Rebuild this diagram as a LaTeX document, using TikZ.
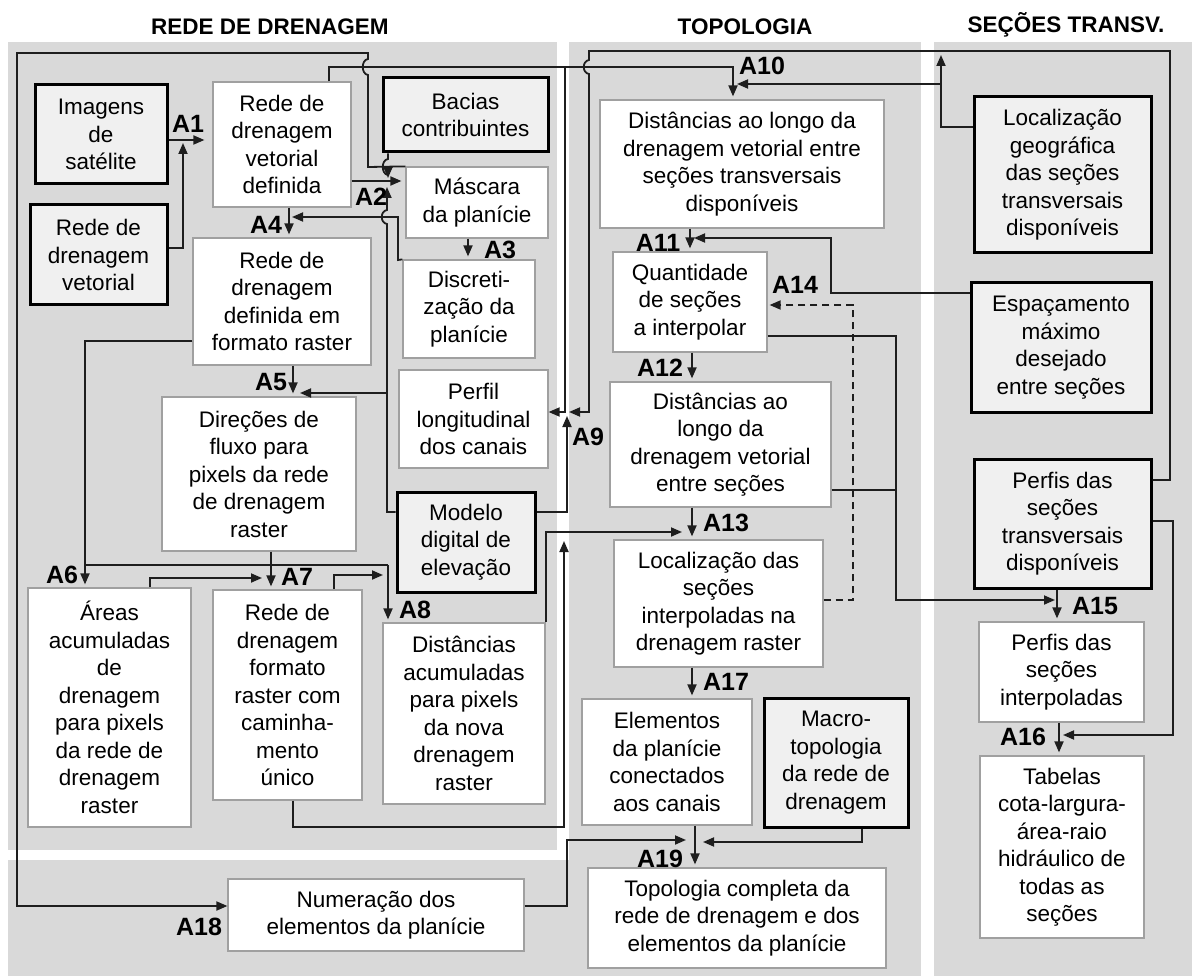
\documentclass[tikz,border=0pt]{standalone}
\usepackage{fontspec}
\setmainfont{Liberation Sans}
\usetikzlibrary{arrows.meta, positioning}
\definecolor{panelgray}{HTML}{D9D9D9}
\definecolor{srcfill}{HTML}{F0F0F0}
\definecolor{boxline}{HTML}{A0A0A0}
\definecolor{wiregray}{HTML}{1E1E1E}

\begin{document}
\begin{tikzpicture}[x=1pt, y=-1pt, >={Triangle[length=11pt,width=9pt]},
  ttl/.style={font=\fontsize{22.5}{27}\selectfont\bfseries, anchor=base},
  proc/.style={rectangle, draw=boxline, line width=1.2pt, fill=white, align=center,
    inner sep=0pt, font=\fontsize{22.5}{27.5}\selectfont},
  source/.style={proc, draw=black, line width=3pt, fill=srcfill},
  wire/.style={draw=wiregray, line width=1.8pt},
  act/.style={font=\fontsize{25}{30}\selectfont\bfseries, inner sep=0pt}]
  \useasboundingbox (0,0) rectangle (1192,976);
  \fill[panelgray] (8,42) rectangle (557,850);
  \fill[panelgray] (569,42) rectangle (921,976);
  \fill[panelgray] (8,860) rectangle (921,976);
  \fill[panelgray] (934,42) rectangle (1192,976);

  \node[ttl] (t1) at (270,35) {REDE DE DRENAGEM};
  \node[ttl] (t2) at (745,35) {TOPOLOGIA};
  \node[ttl] (t3) at (1066,33) {SEÇÕES TRANSV.};

  \node[source, minimum width=132pt, minimum height=99pt] (img) at (101,134.5) {Imagens\\de\\satélite};
  \node[source, minimum width=137pt, minimum height=100pt] (redevet) at (98.5,255) {Rede de\\drenagem\\vetorial};
  \node[proc, minimum width=138pt, minimum height=125pt] (rededef) at (282,144.5) {Rede de\\drenagem\\vetorial\\definida};
  \node[source, minimum width=165pt, minimum height=74pt] (bacias) at (465.5,115) {Bacias\\contribuintes};
  \node[proc, minimum width=142pt, minimum height=71pt] (masc) at (477,202.5) {Máscara\\da planície};
  \node[proc, minimum width=132pt, minimum height=98pt] (discr) at (469,309) {Discreti-\\zação da\\planície};
  \node[proc, minimum width=178pt, minimum height=127pt] (raster) at (282,301.5) {Rede de\\drenagem\\definida em\\formato raster};
  \node[proc, minimum width=149pt, minimum height=98pt] (perfil) at (473.5,419) {Perfil\\longitudinal\\dos canais};
  \node[proc, minimum width=194pt, minimum height=154pt] (direc) at (259,474) {Direções de\\fluxo para\\pixels da rede\\de drenagem\\raster};
  \node[source, minimum width=138pt, minimum height=100pt] (mde) at (466,542) {Modelo\\digital de\\elevação};
  \node[proc, minimum width=163pt, minimum height=239pt] (areas) at (109.5,707.5) {Áreas\\acumuladas\\de\\drenagem\\para pixels\\da rede de\\drenagem\\raster};
  \node[proc, minimum width=149pt, minimum height=210pt] (camin) at (287.5,695) {Rede de\\drenagem\\formato\\raster com\\caminha-\\mento\\único};
  \node[proc, minimum width=162pt, minimum height=181pt] (distac) at (464,713.5) {Distâncias\\acumuladas\\para pixels\\da nova\\drenagem\\raster};
  \node[proc, minimum width=296pt, minimum height=72pt] (numer) at (376,915) {Numeração dos\\elementos da planície};
  \node[proc, minimum width=284pt, minimum height=128pt] (distvet) at (742,164) {Distâncias ao longo da\\drenagem vetorial entre\\seções transversais\\disponíveis};
  \node[proc, minimum width=154pt, minimum height=100pt] (quant) at (690,302) {Quantidade\\de seções\\a interpolar};
  \node[proc, minimum width=221pt, minimum height=125pt] (distsec) at (720.5,444.5) {Distâncias ao\\longo da\\drenagem vetorial\\entre seções};
  \node[proc, minimum width=209pt, minimum height=127pt] (locint) at (718.5,603.5) {Localização das\\seções\\interpoladas na\\drenagem raster};
  \node[proc, minimum width=170pt, minimum height=126pt] (elem) at (667,762) {Elementos\\da planície\\conectados\\aos canais};
  \node[source, minimum width=144pt, minimum height=129pt] (macro) at (836,762.5) {Macro-\\topologia\\da rede de\\drenagem};
  \node[proc, minimum width=298pt, minimum height=100pt] (topo) at (737,918) {Topologia completa da\\rede de drenagem e dos\\elementos da planície};
  \node[source, minimum width=177pt, minimum height=156pt] (locgeo) at (1062.5,175) {Localização\\geográfica\\das seções\\transversais\\disponíveis};
  \node[source, minimum width=180pt, minimum height=129pt] (espac) at (1061,347.5) {Espaçamento\\máximo\\desejado\\entre seções};
  \node[source, minimum width=177pt, minimum height=129pt] (perftr) at (1062.5,523.5) {Perfis das\\seções\\transversais\\disponíveis};
  \node[proc, minimum width=165pt, minimum height=100pt] (perfint) at (1061.5,672) {Perfis das\\seções\\interpoladas};
  \node[proc, minimum width=164pt, minimum height=182pt] (tabelas) at (1062,847) {Tabelas\\cota-largura-\\área-raio\\hidráulico de\\todas as\\seções};

  \coordinate (a1) at (183,140);
  \coordinate (a2) at (388,181);
  \coordinate (a2top) at (388,178);
  \coordinate (a2low) at (387,187);
  \coordinate (a4) at (289,217);
  \coordinate (a5) at (293,393);
  \coordinate (mdebr) at (387,393);
  \coordinate (a6) at (85,565);
  \coordinate (a7) at (271,565);
  \coordinate (a8) at (388,565);
  \coordinate (a9) at (565,412);
  \coordinate (a9b) at (569,412);
  \coordinate (a9c) at (567,416);
  \coordinate (a10) at (733,67);
  \coordinate (a10b) at (941,84);
  \coordinate (a10up) at (941,55);
  \coordinate (a11) at (694,238);
  \coordinate (a13) at (682,532);
  \coordinate (a15) at (1057,600);
  \coordinate (a16) at (1059,735);
  \coordinate (a19) at (695,840);
  \coordinate (camup) at (564,541);

  \draw[wire, ->, shorten >=8pt] (img.east |- a1) -- (rededef.west |- a1);
  \draw[wire, ->, shorten >=3pt] (redevet.east |- 0,248) -| (a1);
  \draw[wire, ->, shorten >=4pt] (rededef.east |- a2) -- (masc.west |- a2);
  \draw[wire, ->] (bacias.south -| a2) -- (388,159) .. controls (381,160) and (381,174) .. (388,175) -- (a2top);
  \draw[wire, ->] (mde.west |- 0,512) -- (387,512) -- (387,224) .. controls (380,223) and (380,211) .. (387,210) -- (a2low);
  \draw[wire, ->, shorten >=7pt] (mdebr) -- (a5);
  \draw[wire, ->, shorten >=3pt] (masc.south -| 468,0) -- (discr.north -| 468,0);
  \draw[wire, ->, shorten >=3pt] (rededef.south -| a4) -- (raster.north -| a4);
  \draw[wire, ->, shorten >=3pt] (discr.north west) -- (398,260) -- (398,217) -- (a4);
  \draw[wire, ->, shorten >=3pt] (raster.south -| a5) -- (direc.north -| a5);
  \draw[wire, ->, shorten >=3pt] (raster.west |- 0,341) -| (areas.north -| a6);
  \draw[wire, ->, shorten >=3pt] (direc.south -| a7) -- (camin.north -| a7);
  \draw[wire] (a6) -- (a8);
  \draw[wire, ->, shorten >=3pt] (a8) -- (distac.north -| a8);
  \draw[wire, ->, shorten >=9pt] (areas.north -| 150,0) -- (150,578) -- (a7 |- 0,578);
  \draw[wire, ->, shorten >=5pt] (camin.north -| 334,0) -- (334,575) -- (a8 |- 0,575);
  \draw[wire, ->, shorten >=3pt] (rededef.north -| 329,0) |- (a10) -- (distvet.north -| a10);
  \draw[wire, ->] (a9 |- a10) -- (a9) -- (perfil.east |- a9);
  \draw[wire, ->] (perftr.east |- 0,480) -- (1170,480) -- (1170,51) -- (589,51) -- (589,60) .. controls (582,61) and (582,73) .. (589,74) -- (589,412) -- (a9b);
  \draw[wire, ->] (mde.east |- 0,512) -| (a9c);
  \draw[wire, ->] (locgeo.west |- 0,127) -| (a10up);
  \draw[wire, ->, shorten >=4pt] (a10b) -- (a10 |- a10b);
  \draw[wire, ->, shorten >=3pt] (distvet.south -| 690,0) -- (quant.north -| 690,0);
  \draw[wire, ->] (espac.west |- 0,293) -- (831,293) -- (831,238) -- (a11);
  \draw[wire, ->, shorten >=3pt] (quant.south -| 692,0) -- (distsec.north -| 692,0);
  \draw[wire, ->, shorten >=3pt] (distsec.south -| 692,0) -- (locint.north -| 692,0);
  \draw[wire, ->] (distac.north east) |- (a13);
  \draw[wire, ->, dash pattern=on 7pt off 5pt, shorten >=2pt] (locint.east |- 0,600) -- (853,600) -- (853,305) -- (quant.east |- 0,305);
  \draw[wire, ->, shorten >=2pt] (quant.east |- 0,336) -- (896,336) -- (896,600) -- (a15);
  \draw[wire] (distsec.east |- 0,490) -- (896,490);
  \draw[wire, ->, shorten >=3pt] (perftr.south -| a15) -- (perfint.north -| a15);
  \draw[wire, ->, shorten >=3pt] (perfint.south -| a16) -- (tabelas.north -| a16);
  \draw[wire, ->, shorten >=4pt] (perftr.east |- 0,521) -- (1173,521) -- (1173,735) -- (a16);
  \draw[wire, ->, shorten >=3pt] (locint.south -| 692,0) -- (elem.north -| 692,0);
  \draw[wire, ->] (masc.north west) -- (368,167) -- (368,75) .. controls (361,74) and (361,60) .. (368,59) -- (368,53) -- (17,53) -- (17,906) -- (numer.west |- 0,906);
  \draw[wire, ->, shorten >=3pt] (elem.south -| a19) -- (topo.north -| a19);
  \draw[wire, ->, shorten >=9pt] (numer.east |- 0,906) -- (567,906) -- (567,840) -- (a19);
  \draw[wire, ->, shorten >=8pt] (macro.south -| 862,0) -- (862,842) -- (a19 |- 0,842);
  \draw[wire, ->] (camin.south -| 293,0) -- (293,827) -- (564,827) -- (camup);

  \node[act] (l1) at (188,123.5) {A1};
  \node[act] (l2) at (371,197) {A2};
  \node[act] (l3) at (500,250) {A3};
  \node[act] (l4) at (266,225) {A4};
  \node[act] (l5) at (271,382) {A5};
  \node[act] (l6) at (62,575) {A6};
  \node[act] (l7) at (297,577) {A7};
  \node[act] (l8) at (415,610) {A8};
  \node[act] (l9) at (588,437) {A9};
  \node[act] (l10) at (762,66) {A10};
  \node[act] (l11) at (658,243) {A11};
  \node[act] (l12) at (660,368) {A12};
  \node[act] (l13) at (726,523) {A13};
  \node[act] (l14) at (795,285) {A14};
  \node[act] (l15) at (1095,606) {A15};
  \node[act] (l16) at (1023,737) {A16};
  \node[act] (l17) at (726,682) {A17};
  \node[act] (l18) at (199,927) {A18};
  \node[act] (l19) at (660,859) {A19};
\end{tikzpicture}
\end{document}
